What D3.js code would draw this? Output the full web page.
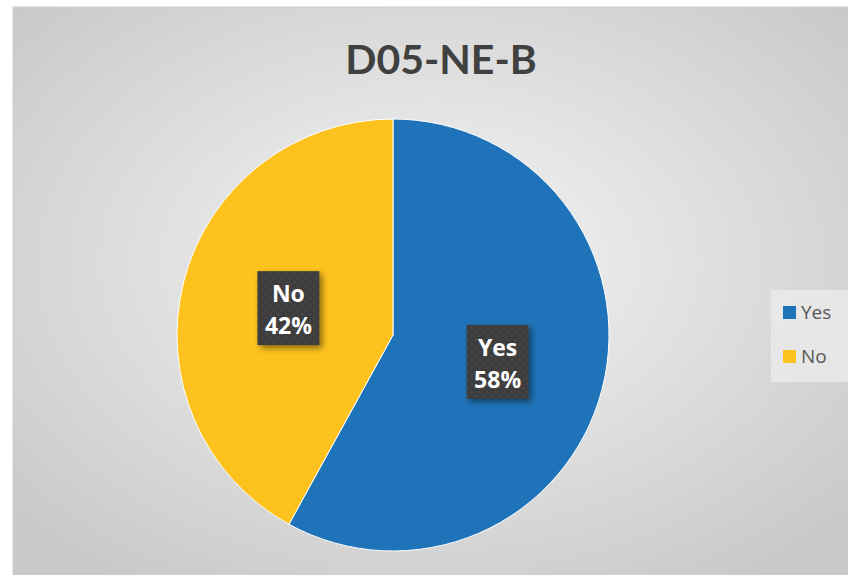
<!DOCTYPE html>
<html>
<head>
<meta charset="utf-8">
<script src="https://cdn.jsdelivr.net/npm/d3@7"></script>
<style>
  html, body { margin: 0; padding: 0; background: #ffffff; }
  svg { display: block; }
</style>
</head>
<body>
<svg id="chart" width="848" height="575"></svg>
<script>
// Survey answers for D05-NE-B
const title = "D05-NE-B";
const categories = ["Yes", "No"];
const values = [58, 42];
const colors = ["#1f74b9", "#fdc21e"];

const W = 848, H = 575;
const svg = d3.select("#chart");
const defs = svg.append("defs");

// chart area background: soft radial gray
const bg = defs.append("radialGradient").attr("id", "bgGrad")
  .attr("cx", "50%").attr("cy", "45%").attr("r", "68%");
bg.append("stop").attr("offset", "0%").attr("stop-color", "#f6f6f6");
bg.append("stop").attr("offset", "100%").attr("stop-color", "#c8c8c8");

// dotted texture for the data label boxes
const pat = defs.append("pattern").attr("id", "dots")
  .attr("width", 8).attr("height", 8).attr("patternUnits", "userSpaceOnUse");
pat.append("rect").attr("width", 8).attr("height", 8).attr("fill", "#3d3d3d");
pat.append("circle").attr("cx", 2).attr("cy", 2).attr("r", 1.1).attr("fill", "#4c4c4c");
pat.append("circle").attr("cx", 6).attr("cy", 6).attr("r", 1.1).attr("fill", "#4c4c4c");

const shadow = defs.append("filter").attr("id", "shadow")
  .attr("x", "-30%").attr("y", "-30%").attr("width", "160%").attr("height", "160%");
shadow.append("feDropShadow").attr("dx", 3).attr("dy", 3).attr("stdDeviation", 3)
  .attr("flood-color", "#000").attr("flood-opacity", 0.45);

const area = { x: 13, y: 7, w: W - 13, h: H - 7 };
svg.append("rect")
  .attr("x", area.x).attr("y", area.y).attr("width", area.w).attr("height", area.h)
  .attr("fill", "url(#bgGrad)").attr("stroke", "#d0d0d0").attr("stroke-width", 1);

svg.append("text")
  .attr("x", 441).attr("y", 74)
  .attr("text-anchor", "middle")
  .attr("font-family", "Lato, 'Open Sans', sans-serif")
  .attr("font-weight", "bold")
  .attr("font-size", 41)
  .attr("fill", "#404040")
  .text(title);

// pie
const cx = 393, cy = 335, r = 216;
const data = categories.map((c, i) => ({ cat: c, value: values[i], color: colors[i] }));
const pie = d3.pie().value(d => d.value).sort(null);
const arcs = pie(data);
const arc = d3.arc().innerRadius(0).outerRadius(r);

const g = svg.append("g").attr("transform", `translate(${cx},${cy})`);
g.selectAll("path.slice").data(arcs).join("path")
  .attr("class", "slice")
  .attr("d", arc)
  .attr("fill", d => d.data.color)
  .attr("stroke", "#ffffff").attr("stroke-width", 1);

// data labels
const labelArc = d3.arc().innerRadius(r * 0.5).outerRadius(r * 0.5);
const total = d3.sum(values);
const bw = 62, bh = 74;
const labels = g.selectAll("g.lbl").data(arcs).join("g")
  .attr("class", "lbl")
  .attr("transform", d => {
    const [x, y] = labelArc.centroid(d);
    return `translate(${x},${y})`;
  });
labels.append("rect")
  .attr("x", -bw / 2).attr("y", -bh / 2).attr("width", bw).attr("height", bh)
  .attr("fill", "url(#dots)").attr("filter", "url(#shadow)");
labels.append("text")
  .attr("text-anchor", "middle")
  .attr("font-family", "'Open Sans', Lato, sans-serif")
  .attr("font-weight", "bold").attr("font-size", 23).attr("fill", "#ffffff")
  .selectAll("tspan")
  .data(d => [d.data.cat, Math.round(d.data.value / total * 100) + "%"])
  .join("tspan")
  .attr("x", 0)
  .attr("y", (d, i) => i === 0 ? -6 : 26)
  .text(d => d);

// legend
const lg = svg.append("g");
lg.append("rect").attr("x", 771).attr("y", 290).attr("width", 77).attr("height", 92)
  .attr("fill", "#ececec").attr("opacity", 0.75);
const item = lg.selectAll("g.item").data(data).join("g")
  .attr("class", "item")
  .attr("transform", (d, i) => `translate(783,${306 + i * 44})`);
item.append("rect").attr("width", 13).attr("height", 13).attr("fill", d => d.color);
item.append("text").attr("x", 18).attr("y", 13)
  .attr("font-family", "'Open Sans', Lato, sans-serif").attr("font-size", 19)
  .attr("fill", "#595959").text(d => d.cat);
</script>
</body>
</html>
